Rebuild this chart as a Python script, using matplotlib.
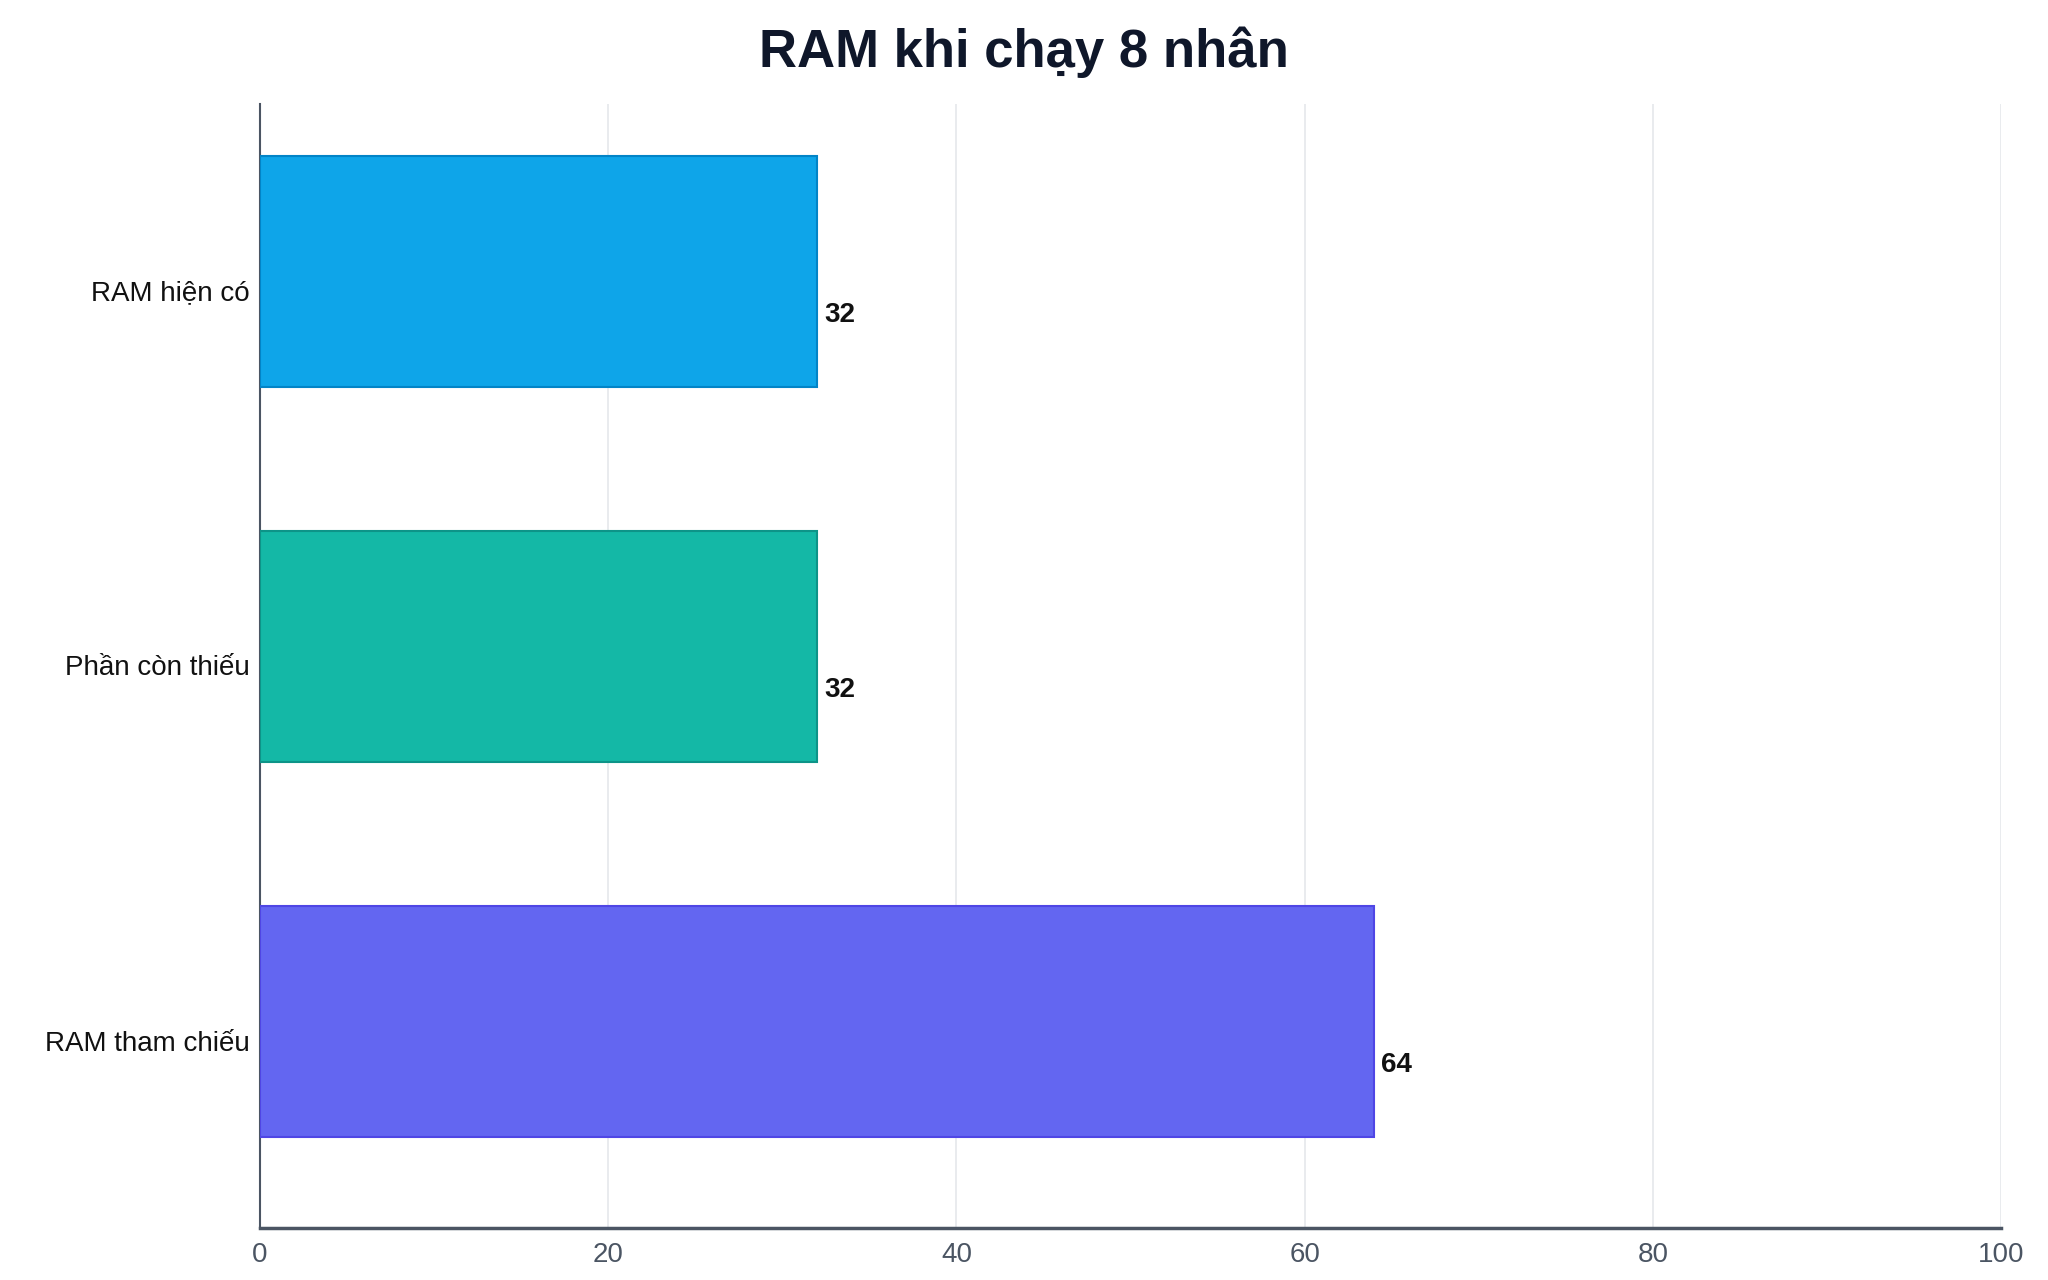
import matplotlib
matplotlib.use("Agg")
import matplotlib.pyplot as plt
from matplotlib.transforms import ScaledTranslation

categories = ["RAM hiện có", "Phần còn thiếu", "RAM tham chiếu"]
values = [32, 32, 64]
colors = ["#0ea5e9", "#14b8a6", "#6366f1"]
edge_colors = ["#0284c7", "#0d9488", "#4f46e5"]
xticks = [0, 20, 40, 60, 80, 100]
title = "RAM khi chạy 8 nhân"

plt.rcParams['font.family'] = ['Liberation Sans', 'DejaVu Sans']

fig = plt.figure(figsize=(20.48, 12.8), dpi=100)
ax = fig.add_axes([260/2048, 1-1228/1280, (2001-260)/2048, (1228-104)/1280])

y = list(range(len(categories)))
ax.barh(y, values, height=0.615, color=colors, edgecolor=edge_colors, linewidth=1.5, zorder=3)

ax.set_xlim(0, 100)
ax.set_ylim(len(categories)-1+0.55, -0.446)
ax.set_xticks(xticks)
ax.set_xticklabels([str(t) for t in xticks], fontsize=20, color="#4b5563")
ax.set_yticks(y)
ax.set_yticklabels(categories, fontsize=20, color="#111111")
ax.tick_params(axis='both', length=0)
ax.tick_params(axis='x', pad=10)
ax.tick_params(axis='y', pad=7.5)

offset = ScaledTranslation(0, -19/100, fig.dpi_scale_trans)
for lab in ax.get_yticklabels():
    lab.set_transform(lab.get_transform() + offset)

ax.grid(axis='x', color="#e5e7eb", linewidth=1.2, zorder=0)
ax.grid(axis='y', visible=False)
for s in ["top", "right"]:
    ax.spines[s].set_visible(False)
ax.spines["left"].set_color("#4b5563")
ax.spines["left"].set_linewidth(1.5)
ax.spines["bottom"].set_color("#4b5563")
ax.spines["bottom"].set_linewidth(2.5)
ax.set_axisbelow(True)

for yi, v in zip(y, values):
    ax.annotate(str(v), xy=(v, yi), xytext=(5, -31.5), textcoords="offset points",
                ha="left", va="center", fontsize=20, fontweight="bold", color="#111111")

fig.text(0.5, 1-52/1280, title, ha="center", va="center", fontsize=38,
         fontweight="bold", color="#0f172a")

fig.savefig("out.png", dpi=100, facecolor="white")
